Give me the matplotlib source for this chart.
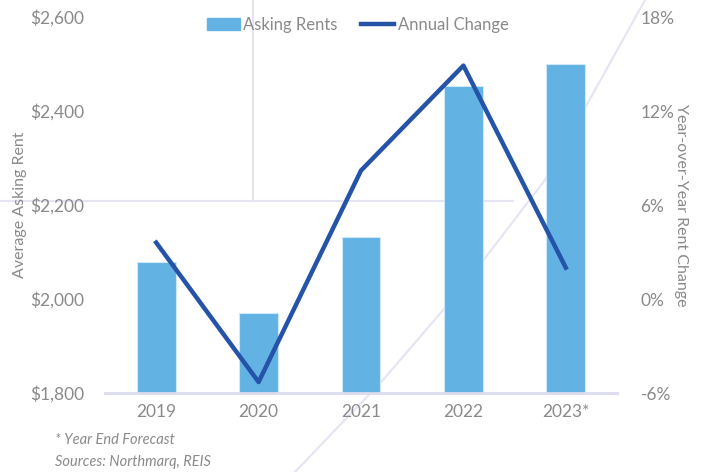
import matplotlib
matplotlib.use('Agg')
import matplotlib.pyplot as plt
from matplotlib.lines import Line2D
from matplotlib.patches import Patch
from matplotlib.ticker import FuncFormatter

years = ['2019', '2020', '2021', '2022', '2023*']
asking_rents = [2079, 1970, 2132, 2453, 2500]
annual_change = [3.6, -5.3, 8.2, 14.9, 2.0]

bar_color = '#62b3e3'
line_color = '#2453a8'
text_color = '#8a8a8a'
deco_color = '#e4e4f4'

plt.rcParams['font.family'] = ['Lato', 'DejaVu Sans']

fig = plt.figure(figsize=(7.04, 4.72), dpi=100)

# faint background decoration
W, H = 704, 472
deco = fig.add_axes([0, 0, 1, 1], zorder=0)
deco.set_xlim(0, W)
deco.set_ylim(H, 0)
deco.axis('off')
deco.plot([253, 253], [0, 201], color=deco_color, lw=1.5)
deco.plot([0, 513], [201, 201], color=deco_color, lw=1.5)
deco.plot([295, 383, 462, 545, 645], [472, 380, 288, 180, 0], color=deco_color, lw=1.5)

ax = fig.add_axes([105 / W, 79 / H, 512 / W, 376 / H], zorder=1)
ax.patch.set_alpha(0)
x = range(len(years))
ax.bar(x, asking_rents, width=0.38, color=bar_color, edgecolor='#cfe8f7', linewidth=0.8, zorder=2)
ax.set_ylim(1800, 2600)
ax.set_yticks([1800, 2000, 2200, 2400, 2600])
ax.yaxis.set_major_formatter(FuncFormatter(lambda v, p: '${:,.0f}'.format(v)))
ax.set_xlim(-0.5, 4.5)
ax.set_xticks(list(x))
ax.set_xticklabels(years)
for s in ['top', 'left', 'right']:
    ax.spines[s].set_visible(False)
ax.spines['bottom'].set_color('#dcdcef')
ax.spines['bottom'].set_linewidth(2)
ax.tick_params(axis='both', length=0, labelsize=12.5, colors=text_color)
ax.tick_params(axis='y', pad=15)
ax.tick_params(axis='x', pad=8)
ax.set_ylabel('Average Asking Rent', color=text_color, fontsize=11.5, labelpad=2)

ax2 = ax.twinx()
ax2.plot(x, annual_change, color=line_color, lw=3.2, zorder=3)
ax2.set_ylim(-6, 18)
ax2.set_yticks([-6, 0, 6, 12, 18])
ax2.yaxis.set_major_formatter(FuncFormatter(lambda v, p: '{:.0f}%'.format(v)))
for s in ['top', 'left', 'right', 'bottom']:
    ax2.spines[s].set_visible(False)
ax2.tick_params(axis='y', length=0, labelsize=12.5, colors=text_color, pad=17)
ax2.set_ylabel('Year-over-Year Rent Change', color=text_color, fontsize=11.5, rotation=270, labelpad=10)

handles = [Patch(color=bar_color), Line2D([0], [0], color=line_color, lw=3.2)]
fig.legend(handles, ['Asking Rents', 'Annual Change'], loc='center', bbox_to_anchor=(0.508, 0.948),
           ncol=2, frameon=False, fontsize=12, labelcolor=text_color, handlelength=2.0,
           handletextpad=0.2, columnspacing=1.4)

fig.text(55 / W, 1 - 440 / H, '* Year End Forecast', style='italic', color=text_color, fontsize=10.5, va='center')
fig.text(55 / W, 1 - 462 / H, 'Sources: Northmarq, REIS', style='italic', color=text_color, fontsize=10.5, va='center')

fig.savefig('out.png', dpi=100)
